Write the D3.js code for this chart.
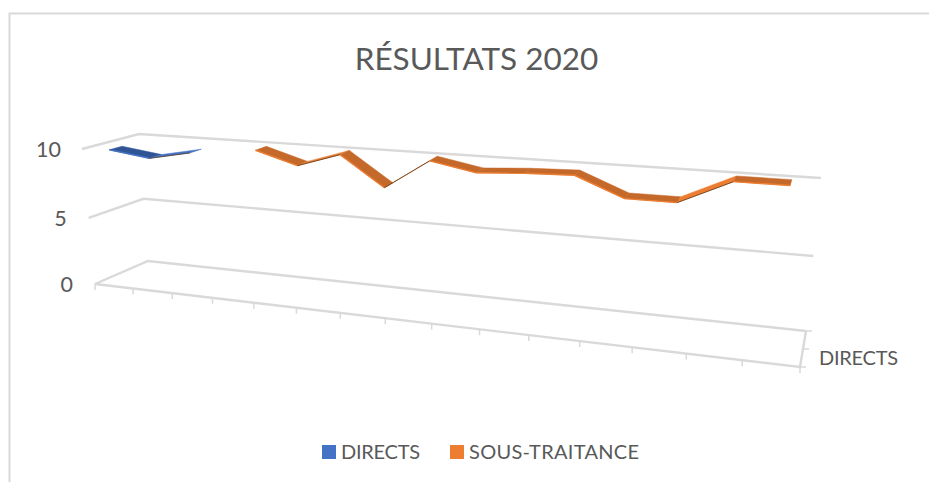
<!DOCTYPE html>
<html>
<head>
<meta charset="utf-8">
<script src="https://cdn.jsdelivr.net/npm/d3@7"></script>
<style>
    html, body { margin: 0; padding: 0; background: white; overflow: hidden; }
</style>
</head>
<body>
<div id="chart"></div>
<script>

let chartTitle = "RÉSULTATS 2020"
let seriesNames = ["DIRECTS", "SOUS-TRAITANCE"]
let categories = ["1", "2", "3", "4", "5", "6", "7", "8", "9", "10", "11", "12", "13", "14", "15"]
let directsValues = [9.9, 9.5, 10.1, null, null, null, null, null, null, null, null, null, null, null, null]
let sousTraitanceValues = [null, null, null, 9.9, 9.0, 10.0, 7.9, 10.0, 9.4, 9.6, 9.7, 8.4, 8.4, 10.0, 10.0]
let valueTicks = [0, 5, 10]
let depthTickLabels = ["DIRECTS"]

let width = 929
let height = 482
let gridColor = "#D9D9D9"
let textColor = "#595959"
let ribbonDepth = 0.23

let svg = d3.select("#chart").append("svg")
    .attr("width", width)
    .attr("height", height)
    .style("display", "block")

// box corners in screen space, [x, y] with names front/back, left/right, bottom/top
let corners = {
    flb: [95, 284], frb: [800, 367], blb: [148, 261], brb: [806, 331],
    flt: [82, 149], frt: [816, 204], blt: [139, 134], brt: [821, 178]
}

let catScale = d3.scaleBand().domain(categories).range([0, 1])
let valueScale = d3.scaleLinear().domain([0, 5, 10]).range([0, 0.49, 1])
let depthScale = d3.scaleBand().domain(seriesNames).range([0, 1])

// the far end of the chart is closer to the viewer, so ticks spread out to the right
let foreshorten = function(c){
    let w = 0.8
    return w * c / (1 + (w - 1) * c)
}

let project = function(c, value, depth){
    let t = foreshorten(c)
    let v = valueScale(value)
    let mix = function(i){
        let lerp = d3.interpolateNumber
        let front = lerp(lerp(corners.flb[i], corners.frb[i])(t), lerp(corners.flt[i], corners.frt[i])(t))(v)
        let back = lerp(lerp(corners.blb[i], corners.brb[i])(t), lerp(corners.blt[i], corners.brt[i])(t))(v)
        return lerp(front, back)(depth)
    }
    return [mix(0), mix(1)]
}

let line = d3.line()

// chart frame
svg.append("path")
    .attr("d", line([[9.5, height], [9.5, 13.5], [width, 13.5]]))
    .attr("fill", "none")
    .attr("stroke", gridColor)
    .attr("stroke-width", 2)

svg.append("text")
    .text(chartTitle)
    .attr("x", 476.5)
    .attr("y", 70)
    .attr("text-anchor", "middle")
    .attr("font-family", "Lato")
    .attr("font-size", "31.5px")
    .attr("fill", textColor)

// walls and floor
valueTicks.forEach(function(tick){
    svg.append("path")
        .attr("d", line([project(0, tick, 0), project(0, tick, 1), project(1, tick, 1)]))
        .attr("fill", "none")
        .attr("stroke", gridColor)
        .attr("stroke-width", 2.4)

    let p = project(0, tick, 0)
    svg.append("text")
        .text(tick)
        .attr("x", tick == 10 ? 61 : p[0] - 22)
        .attr("y", p[1] + 8)
        .attr("text-anchor", "end")
        .attr("font-family", "Lato")
        .attr("font-size", "21.5px")
        .attr("fill", textColor)
})

svg.append("path")
    .attr("d", line([project(0, 0, 0), project(1, 0, 0), project(1, 0, 1)]))
    .attr("fill", "none")
    .attr("stroke", gridColor)
    .attr("stroke-width", 2.4)

// category ticks along the front of the floor
let catTicks = categories.map(function(d){ return catScale(d) }).concat([1])
svg.selectAll(".cat-tick")
    .data(catTicks)
    .join("path")
    .attr("class", "cat-tick")
    .attr("d", function(c){
        let p = project(c, 0, 0)
        return line([p, [p[0], p[1] + 6]])
    })
    .attr("stroke", gridColor)
    .attr("stroke-width", 1.5)

// series ticks on the right side of the floor
svg.selectAll(".depth-tick")
    .data([0, 0.5, 1])
    .join("path")
    .attr("class", "depth-tick")
    .attr("d", function(d){
        let p = project(1, 0, d)
        return line([p, [p[0] + 6, p[1]]])
    })
    .attr("stroke", gridColor)
    .attr("stroke-width", 1.5)

depthTickLabels.forEach(function(label){
    svg.append("text")
        .text(label)
        .attr("x", 819)
        .attr("y", 365)
        .attr("textLength", 79)
        .attr("font-family", "Lato")
        .attr("font-size", "20px")
        .attr("fill", textColor)
})

// one flat ribbon per series, rising segments catch the light and show a dark edge
let drawRibbon = function(name, values, darkFill, lightFill){
    let mid = depthScale(name) + depthScale.bandwidth() / 2
    let pts = []
    categories.forEach(function(cat, i){
        if(values[i] !== null) pts.push([catScale(cat) + catScale.bandwidth() / 2, values[i]])
    })
    let near = pts.map(function(p){ return project(p[0], p[1], mid - ribbonDepth / 2) })
    let far = pts.map(function(p){ return project(p[0], p[1], mid + ribbonDepth / 2) })

    d3.pairs(d3.range(pts.length)).forEach(function(pair){
        let a = pair[0]
        let b = pair[1]
        let rising = pts[b][1] - pts[a][1] > 0.5
        svg.append("path")
            .attr("d", line([near[a], near[b], far[b], far[a]]) + "Z")
            .attr("fill", rising ? lightFill : darkFill)
            .attr("stroke", rising ? lightFill : darkFill)
            .attr("stroke-width", 0.5)
        svg.append("path")
            .attr("d", line([near[a], near[b]]))
            .attr("fill", "none")
            .attr("stroke", rising ? "#5B3A1E" : lightFill)
            .attr("stroke-width", rising ? 0.8 : 1.4)
    })
}

drawRibbon(seriesNames[0], directsValues, "#2F5597", "#4472C4")
drawRibbon(seriesNames[1], sousTraitanceValues, "#C4692A", "#ED7D31")

// legend
let legendX = [322, 450]
let legendColors = ["#4472C4", "#ED7D31"]
let legendWidths = [79, 170]
seriesNames.forEach(function(name, i){
    svg.append("rect")
        .attr("x", legendX[i])
        .attr("y", 445)
        .attr("width", 14)
        .attr("height", 14)
        .attr("fill", legendColors[i])
    svg.append("text")
        .text(name)
        .attr("x", legendX[i] + 19)
        .attr("y", 459)
        .attr("textLength", legendWidths[i])
        .attr("font-family", "Lato")
        .attr("font-size", "20px")
        .attr("fill", textColor)
})

</script>
</body>
</html>
